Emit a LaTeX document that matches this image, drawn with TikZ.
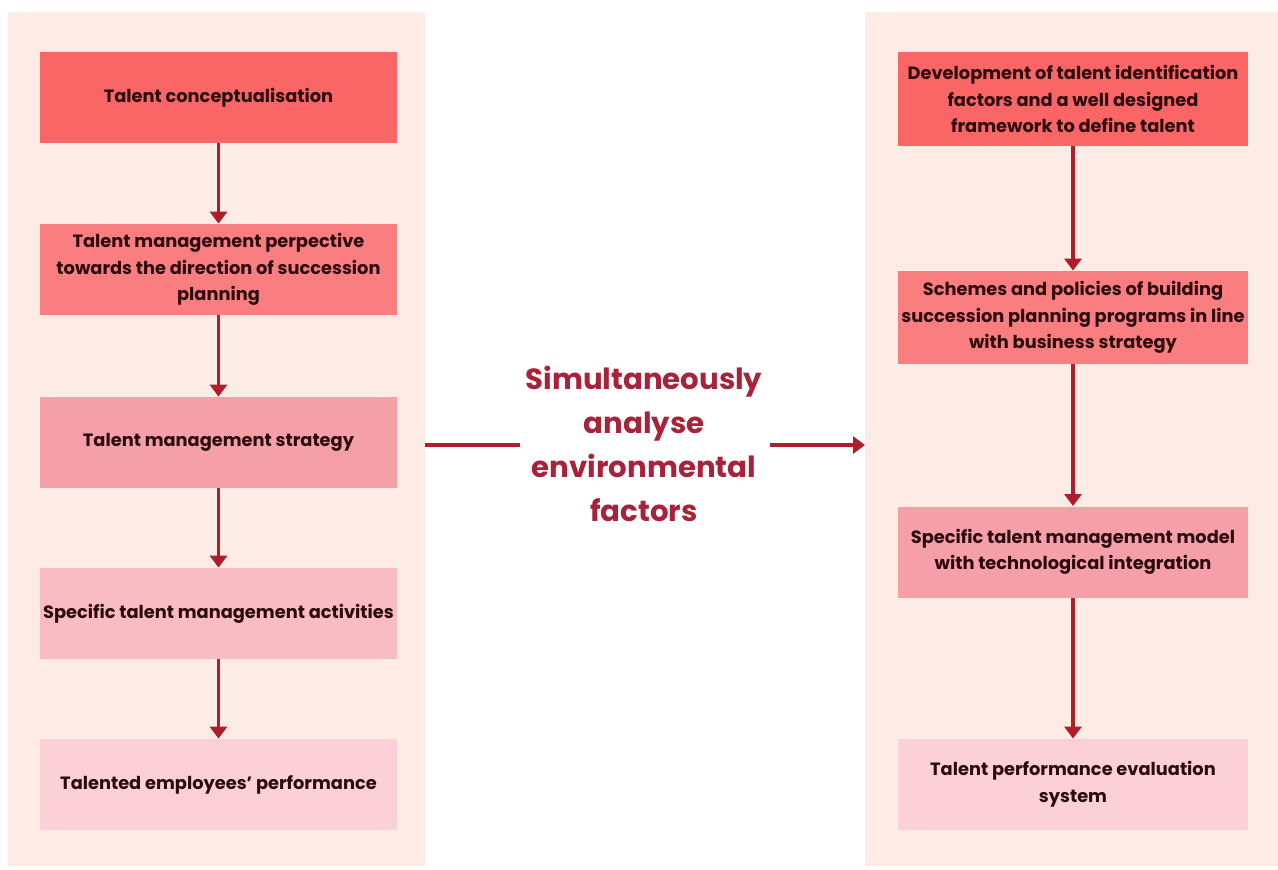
\documentclass[tikz,border=0pt]{standalone}
\usepackage{fontspec}
\setmainfont{Poppins}
\usetikzlibrary{arrows.meta,positioning}

\definecolor{panelbg}{HTML}{FDECE6}
\definecolor{stepA}{HTML}{FA6565}
\definecolor{stepB}{HTML}{FA7E80}
\definecolor{stepC}{HTML}{F5A0A9}
\definecolor{stepD}{HTML}{F9BCC3}
\definecolor{stepE}{HTML}{FBD0D6}
\definecolor{flowred}{HTML}{B01E2C}
\definecolor{midred}{HTML}{A8233A}
\definecolor{textdark}{HTML}{2B0B0E}

\begin{document}
\begin{tikzpicture}[x=0.5pt,y=-0.5pt]
\tikzset{
  stepbox/.style={rectangle,draw=none,minimum height=45.5pt,inner sep=1pt,align=center,
    text=textdark,font=\fontsize{8.9pt}{13.3pt}\selectfont\bfseries},
  leftbox/.style={stepbox,minimum width=178.5pt},
  rightbox/.style={stepbox,minimum width=175pt},
  flow/.style={draw=flowred,line width=1.6pt,-{Triangle[length=6pt,width=8.5pt]}},
  plainflow/.style={draw=flowred,line width=1.6pt}
}
% canvas and panels
\fill[white] (0,0) rectangle (1278,869);
\fill[panelbg] (8,12) rectangle (425,866);
\fill[panelbg] (865,12) rectangle (1278,866);

% left column
\node[leftbox,fill=stepA] (l_concept) at (218.5,97.5) {Talent conceptualisation};
\node[leftbox,fill=stepB] (l_persp) at (218.5,269.5) {Talent management perpective\\towards the direction of succession\\planning};
\node[leftbox,fill=stepC] (l_strat) at (218.5,442.5) {Talent management strategy};
\node[leftbox,fill=stepD] (l_activ) at (218.5,613.5) {Specific talent management activities};
\node[leftbox,fill=stepE] (l_perf) at (218.5,784.5) {Talented employees’ performance};

% right column
\node[rightbox,fill=stepA,minimum height=47pt] (r_ident) at (1073,99) {Development of talent identification\\factors and a well designed\\framework to define talent};
\node[rightbox,fill=stepB,minimum height=46.5pt] (r_scheme) at (1073,317.5) {Schemes and policies of building\\succession planning programs in line\\with business strategy};
\node[rightbox,fill=stepC] (r_model) at (1073,552) {Specific talent management model\\with technological integration};
\node[rightbox,fill=stepE] (r_eval) at (1073,784.5) {Talent performance evaluation\\system};

% middle label
\node[align=center,text=midred,font=\fontsize{14.6pt}{22pt}\selectfont\bfseries] (mid) at (644,444)
  {Simultaneously\\analyse\\environmental\\factors};
\coordinate (mid_in) at (520,445);
\coordinate (mid_out) at (770,445);
\coordinate (panel_r) at (865,445);
\coordinate (panel_l) at (425,445);

% connectors
\draw[flow] (l_concept) -- (l_persp);
\draw[flow] (l_persp) -- (l_strat);
\draw[flow] (l_strat) -- (l_activ);
\draw[flow] (l_activ) -- (l_perf);
\draw[flow] (r_ident) -- (r_scheme);
\draw[flow] (r_scheme) -- (r_model);
\draw[flow] (r_model) -- (r_eval);
\draw[plainflow] (panel_l) -- (mid_in);
\draw[flow] (mid_out) -- (panel_r);
\end{tikzpicture}
\end{document}
